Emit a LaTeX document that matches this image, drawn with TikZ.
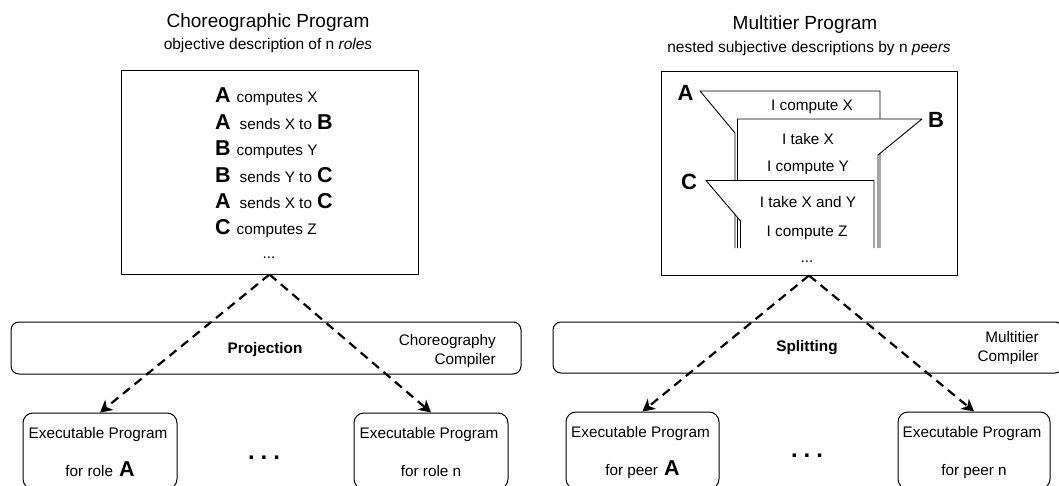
\documentclass[tikz,border=0pt]{standalone}
\usepackage{fontspec}
\setmainfont{Liberation Sans}
\usetikzlibrary{arrows.meta}
\newcommand{\BigLetX}[1]{{\fontsize{21.5}{23}\selectfont\bfseries #1}}
\newcommand{\BigLabX}[1]{{\fontsize{22}{24}\selectfont\bfseries #1}}
\begin{document}
\begin{tikzpicture}[x=1pt,y=-1pt,line join=round]
\tikzset{
  txt/.style={font=\fontsize{15.3}{18.5}\selectfont, inner sep=0pt},
  ttl/.style={font=\fontsize{19}{22}\selectfont, inner sep=0pt},
  sub/.style={font=\fontsize{15.5}{18}\selectfont, inner sep=0pt},
  progbox/.style={draw=black, line width=1pt, fill=white, inner sep=0pt},
  band/.style={draw=black, line width=1pt, fill=white, rounded corners=8pt, inner sep=0pt},
  exec/.style={draw=black, line width=1pt, fill=white, rounded corners=10pt, inner sep=0pt},
  bold/.style={font=\fontsize{15.3}{18.5}\selectfont\bfseries, inner sep=0pt},
  dotsn/.style={font=\fontsize{24}{26}\selectfont\bfseries, inner sep=0pt},
  dar/.style={line width=2.2pt, dash pattern=on 9pt off 6pt, -{Stealth[length=12pt,width=13pt,inset=3.5pt]}},
}
\useasboundingbox (0,0) rectangle (1059,486);

% titles
\node[ttl] (t1) at (268,23) {Choreographic Program};
\node[sub] (s1) at (268,45) {objective description of n \textit{roles}};
\node[ttl] (t2) at (805,25) {Multitier Program};
\node[sub] (s2) at (809,48) {nested subjective descriptions by n \textit{peers}};

% program boxes
\node[progbox, minimum width=297pt, minimum height=203pt] (cp) at (269.5,172.5) {};
\node[progbox, minimum width=296pt, minimum height=203pt] (mp) at (809,173.5) {};

% choreography lines
\node[txt, anchor=base west] (r1) at (215,103) {\BigLetX{A}\hspace{6pt}computes X};
\node[txt, anchor=base west] (r2) at (215,129.5) {\BigLetX{A}\hspace{9pt}sends X to\hspace{5pt}\BigLetX{B}};
\node[txt, anchor=base west] (r3) at (215,156) {\BigLetX{B}\hspace{6pt}computes Y};
\node[txt, anchor=base west] (r4) at (215,182.5) {\BigLetX{B}\hspace{9pt}sends Y to\hspace{5pt}\BigLetX{C}};
\node[txt, anchor=base west] (r5) at (215,208.5) {\BigLetX{A}\hspace{9pt}sends X to\hspace{5pt}\BigLetX{C}};
\node[txt, anchor=base west] (r6) at (215,235) {\BigLetX{C}\hspace{6pt}computes Z};
\node[txt] (ld) at (269,258) {...};

% multitier nested shapes
\fill[white] (700,91) -- (880,91) -- (880,248) -- (735,248) -- (735,133) -- cycle;
\draw[line width=0.9pt] (735,248) -- (735,133) -- (700,91) -- (880,91) -- (880,248);
\fill[white] (737.5,119) -- (922,119) -- (878,155) -- (878,248) -- (737.5,248) -- cycle;
\draw[line width=0.9pt] (737.5,248) -- (737.5,119) -- (922,119) -- (878,155) -- (878,248);
\fill[white] (706,180.5) -- (874,180.5) -- (874,248) -- (740.5,248) -- (740.5,221) -- cycle;
\draw[line width=0.9pt] (740.5,248) -- (740.5,221) -- (706,180.5) -- (874,180.5) -- (874,248);

\node[inner sep=0pt] (la) at (685.5,92.5) {\BigLabX{A}};
\node[inner sep=0pt] (lb) at (936,119.5) {\BigLabX{B}};
\node[inner sep=0pt] (lc) at (689,182) {\BigLabX{C}};

\node[txt] (m1) at (812,107) {I compute X};
\node[txt] (m2) at (808,139) {I take X};
\node[txt] (m3) at (808,168) {I compute Y};
\node[txt] (m4) at (808,202) {I take X and Y};
\node[txt] (m5) at (807,233) {I compute Z};
\node[txt] (rd) at (807,262) {...};

% compiler bands
\node[band, minimum width=510pt, minimum height=52pt] (cc) at (266,348) {};
\node[bold] (proj) at (265,350) {Projection};
\node[txt, anchor=east, align=right] (ccl) at (496,351) {Choreography\\Compiler};
\node[band, minimum width=510pt, minimum height=51pt] (mc) at (808,347.5) {};
\node[bold] (spl) at (807,348) {Splitting};
\node[txt, anchor=east, align=right] (mcl) at (1039,348) {Multitier\\Compiler};

% executable boxes
\node[exec, minimum width=154pt, minimum height=76pt] (ea) at (100,451) {};
\node[exec, minimum width=154pt, minimum height=76pt] (en) at (431,451) {};
\node[exec, minimum width=153pt, minimum height=77pt] (pa) at (642.5,450.5) {};
\node[exec, minimum width=152pt, minimum height=77pt] (pn) at (974,450.5) {};

\node[txt] (ea1) at (98,435) {Executable Program};
\node[txt, anchor=base] (ea2) at (100,476) {for role\hspace{6pt}\BigLetX{A}};
\node[txt] (en1) at (429,435) {Executable Program};
\node[txt, anchor=base] (en2) at (431,476) {for role n};
\node[txt] (pa1) at (640.5,434) {Executable Program};
\node[txt, anchor=base] (pa2) at (642.5,475) {for peer\hspace{6pt}\BigLetX{A}};
\node[txt] (pn1) at (972,434) {Executable Program};
\node[txt, anchor=base] (pn2) at (974,475) {for peer n};

\node[dotsn] (d1) at (264,458) {.\hspace{6pt}.\hspace{6pt}.};
\node[dotsn] (d2) at (807,456) {.\hspace{6pt}.\hspace{6pt}.};

% arrows
\draw[dar] (cp.south) -- (ea.north);
\draw[dar] (cp.south) -- (en.north);
\draw[dar] (mp.south) -- (pa.north);
\draw[dar] (mp.south) -- (pn.north);
\end{tikzpicture}
\end{document}
